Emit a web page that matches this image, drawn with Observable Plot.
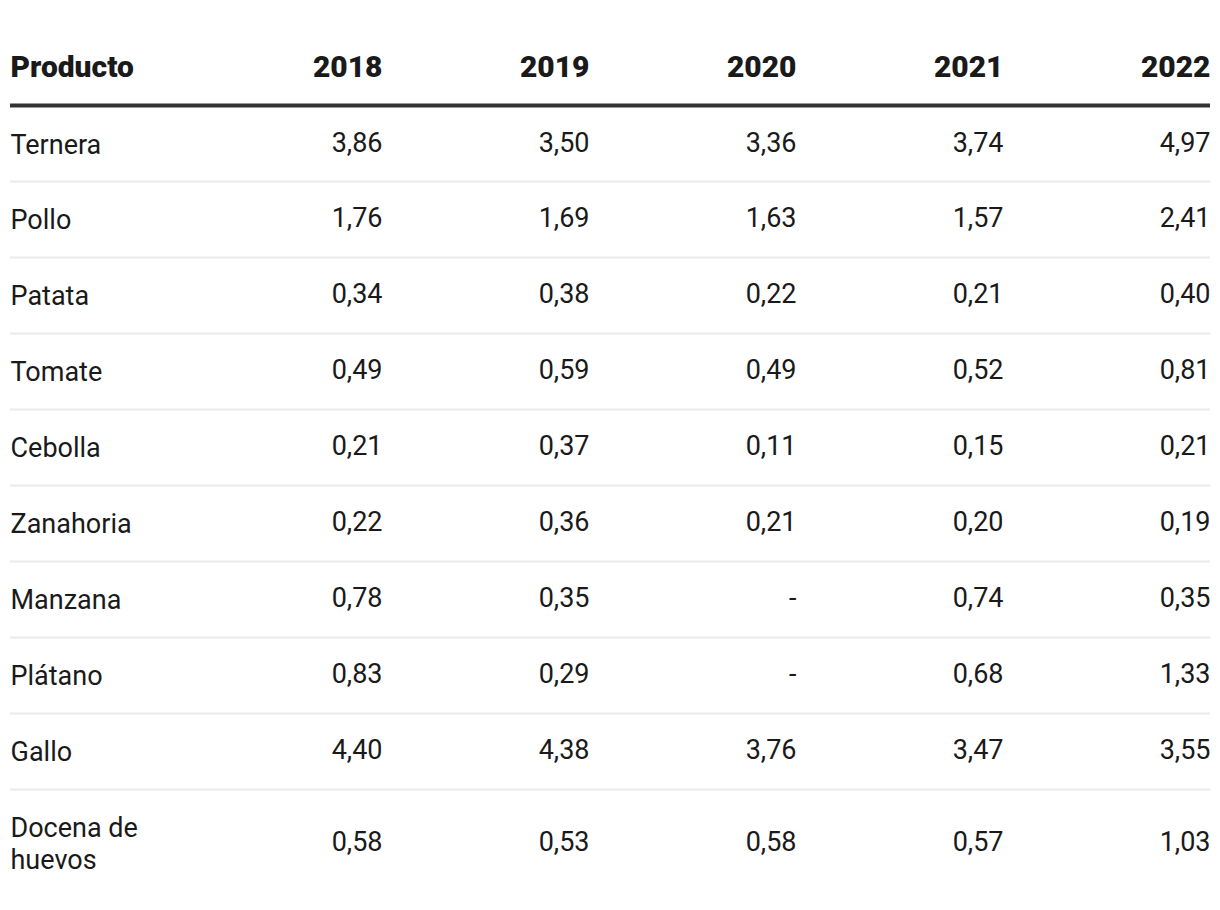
<!DOCTYPE html>
<html>
<head>
<meta charset="utf-8">
<script src="https://cdn.jsdelivr.net/npm/d3@7"></script>
<script src="https://cdn.jsdelivr.net/npm/@observablehq/plot@0.6"></script>
<style>
  html, body { margin: 0; padding: 0; background: #fff; }
  #chart svg { display: block; }
</style>
</head>
<body>
<div id="chart"></div>
<script>
// ---- Data ----
const headerLabel = "Producto";
const years = ["2018", "2019", "2020", "2021", "2022"];
const productos = ["Ternera", "Pollo", "Patata", "Tomate", "Cebolla", "Zanahoria", "Manzana", "Plátano", "Gallo", "Docena de huevos"];
const v2018 = [3.86, 1.76, 0.34, 0.49, 0.21, 0.22, 0.78, 0.83, 4.40, 0.58];
const v2019 = [3.50, 1.69, 0.38, 0.59, 0.37, 0.36, 0.35, 0.29, 4.38, 0.53];
const v2020 = [3.36, 1.63, 0.22, 0.49, 0.11, 0.21, null, null, 3.76, 0.58];
const v2021 = [3.74, 1.57, 0.21, 0.52, 0.15, 0.20, 0.74, 0.68, 3.47, 0.57];
const v2022 = [4.97, 2.41, 0.40, 0.81, 0.21, 0.19, 0.35, 1.33, 3.55, 1.03];
const series = [v2018, v2019, v2020, v2021, v2022];

// ---- Layout (computed) ----
const W = 1220, H = 910;
const FONT = "Roboto, 'Noto Sans', sans-serif";
const bodySize = 27, headSize = 30;
const lineH = 32;          // px per text line
const rowPad = 22;         // px padding above/below text
const headerCenter = 67;
const ruleY = 105;         // thick rule position
const ruleThick = 4;

function wrap(label, maxChars = 12) {
  if (label.length <= maxChars) return label;
  const words = label.split(" ");
  const lines = [];
  let cur = "";
  for (const w of words) {
    if (cur && (cur + " " + w).length > maxChars) { lines.push(cur); cur = w; }
    else cur = cur ? cur + " " + w : w;
  }
  if (cur) lines.push(cur);
  return lines.join("\n");
}

let yTop = ruleY + ruleThick / 2;
const rows = productos.map((p, i) => {
  const label = wrap(p);
  const lines = label.split("\n").length;
  const h = (i === 0 ? rowPad * 2 - ruleThick / 2 : rowPad * 2) + lines * lineH;
  const r = {producto: p, label, y0: yTop, y1: yTop + h, yc: yTop + h / 2 - 1};
  yTop += h;
  return r;
});
const separators = rows.slice(0, -1).map(r => r.y1);

const cells = [];
rows.forEach((r, i) => years.forEach((yr, j) => {
  cells.push({year: yr, yc: r.yc, v: series[j][i]});
}));
const fmt = v => v == null ? "-" : v.toFixed(2).replace(".", ",");

const chart = Plot.plot({
  width: W,
  height: H,
  marginLeft: 10,
  marginRight: 10,
  marginTop: 0,
  marginBottom: 0,
  style: {fontFamily: FONT, color: "#1a1a1a", background: "#fff"},
  x: {type: "point", domain: years, range: [382, 1210], padding: 0, axis: null},
  y: {type: "linear", domain: [0, H], range: [0, H], axis: null},
  marks: [
    Plot.ruleY(separators, {stroke: "#ebebeb", strokeWidth: 2}),
    Plot.ruleY([ruleY], {stroke: "#333", strokeWidth: ruleThick}),
    Plot.text([headerLabel], {frameAnchor: "left", y: () => headerCenter, text: d => d, textAnchor: "start",
      fontSize: headSize, fontWeight: 900, fill: "#1a1a1a"}),
    Plot.text(years, {x: d => d, y: () => headerCenter, text: d => d, textAnchor: "end",
      fontSize: headSize, fontWeight: 900, fill: "#1a1a1a"}),
    Plot.text(rows, {frameAnchor: "left", y: "yc", text: "label", textAnchor: "start",
      fontSize: bodySize, lineHeight: lineH / bodySize, fill: "#1a1a1a"}),
    Plot.text(cells, {x: "year", y: "yc", text: d => fmt(d.v), textAnchor: "end",
      fontSize: bodySize, fill: "#1a1a1a"})
  ]
});
document.getElementById("chart").appendChild(chart);
</script>
</body>
</html>
